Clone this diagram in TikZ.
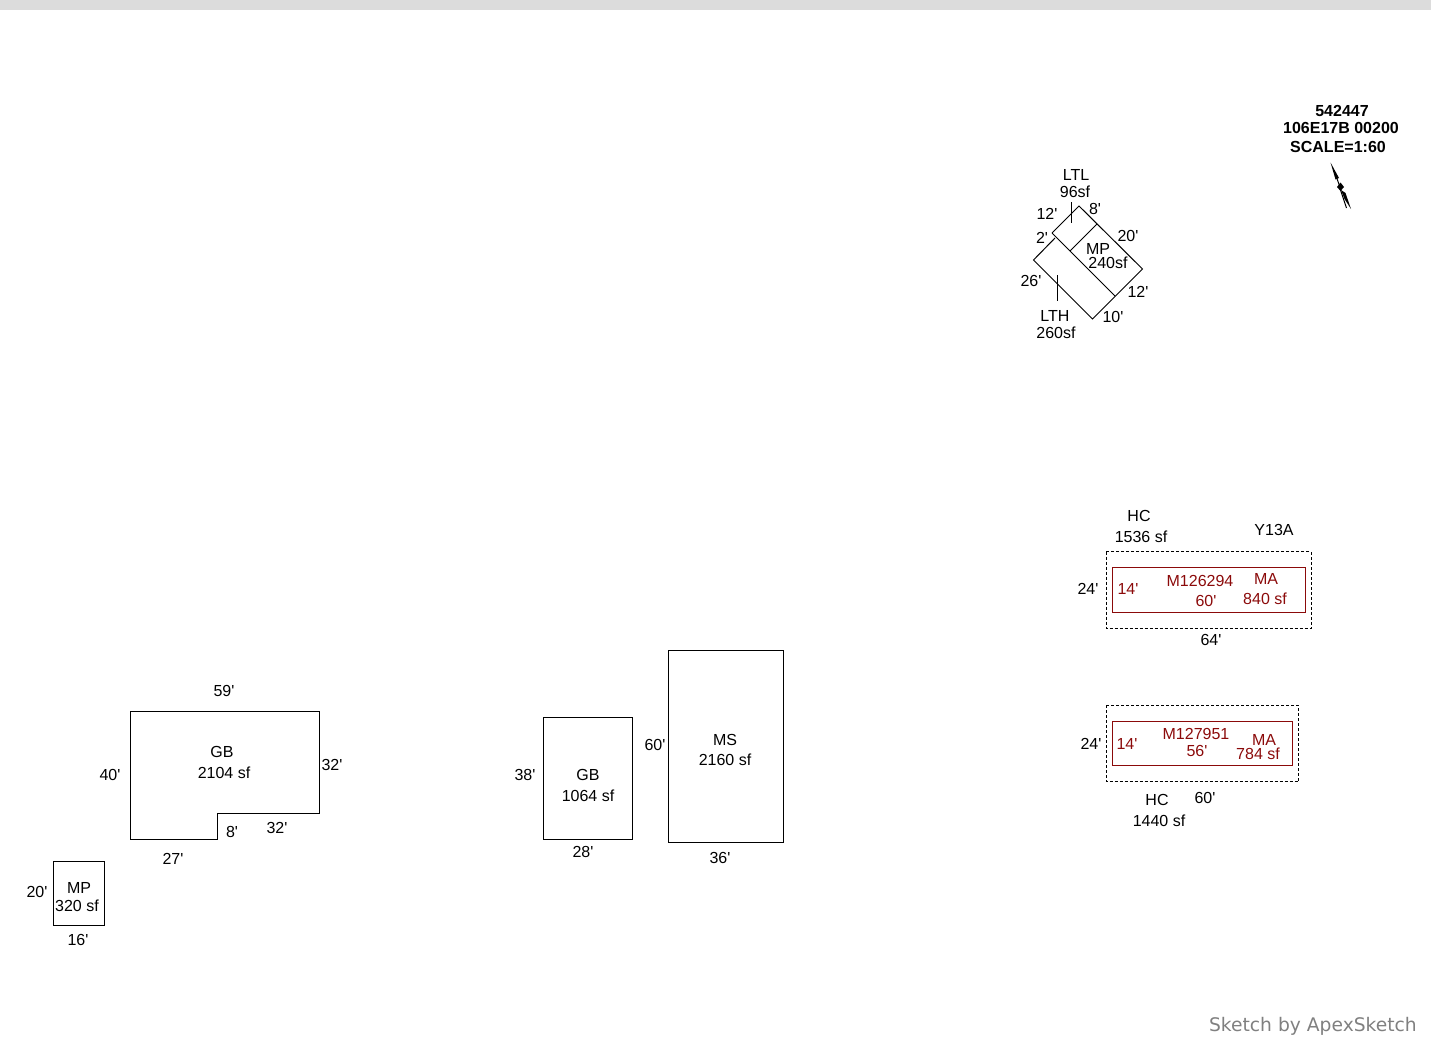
\documentclass[tikz,border=0pt]{standalone}
\usepackage{fontspec}
\setmainfont{Liberation Sans}[Ligatures=NoCommon]
\newfontfamily\labfont{Liberation Sans}
\newfontfamily\apexfont{DejaVu Sans}
\definecolor{maroon}{RGB}{139,10,10}
\definecolor{band}{RGB}{220,220,220}
\definecolor{credit}{RGB}{128,128,128}
\tikzset{
  lab/.style={inner sep=0pt,font=\labfont\fontsize{16}{18}\selectfont,text=black,align=center},
  redlab/.style={lab,text=maroon},
  boldlab/.style={lab,font=\labfont\fontsize{16}{18}\selectfont\bfseries},
  wall/.style={draw=black,line width=1pt,line join=miter},
  redwall/.style={draw=maroon,line width=1pt},
  dotwall/.style={draw=black,line width=1pt,dash pattern=on 3pt off 2pt},
}
\begin{document}
\begin{tikzpicture}[x=1pt,y=-1pt]
\useasboundingbox (0,0) rectangle (1431,1036);
\clip (0,0) rectangle (1431,1036);
\fill[band] (0,0) rectangle (1431,10);
% GB left
\draw[wall] (130,711.5) -- (319.5,711.5) -- (319.5,813.5) -- (217,813.5) -- (217,839) -- (130,839) -- cycle;
\node[lab] (a1) at (224,691) {59'};
\node[lab] (a2) at (222,752) {GB};
\node[lab] (a3) at (224,773) {2104 sf};
\node[lab] (a4) at (110,775) {40'};
\node[lab] (a5) at (332,765) {32'};
\node[lab] (a6) at (232,832) {8'};
\node[lab] (a7) at (277,828) {32'};
\node[lab] (a8) at (173,859) {27'};
% MP left
\draw[wall] (53.5,861.5) rectangle (104.5,925.5);
\node[lab] (b1) at (79,888) {MP};
\node[lab] (b2) at (77,906) {320 sf};
\node[lab] (b3) at (37,892) {20'};
\node[lab] (b4) at (78,940) {16'};
% GB middle
\draw[wall] (543,717.5) rectangle (632.5,839);
\node[lab] (c1) at (588,775) {GB};
\node[lab] (c2) at (588,796) {1064 sf};
\node[lab] (c3) at (525,775) {38'};
\node[lab] (c4) at (583,852) {28'};
% MS
\draw[wall] (668,650.5) rectangle (783.5,842.5);
\node[lab] (d1) at (725,740) {MS};
\node[lab] (d2) at (725,760) {2160 sf};
\node[lab] (d3) at (655,745) {60'};
\node[lab] (d4) at (720,858) {36'};
% Upper HC
\draw[dotwall] (1106,551.5) rectangle (1311,628);
\draw[redwall] (1112.5,567.5) rectangle (1305,612);
\node[lab] (e1) at (1139,516) {HC};
\node[lab] (e2) at (1141,537) {1536 sf};
\node[lab] (e3) at (1274,530) {Y13A};
\node[lab] (e4) at (1088,589) {24'};
\node[lab] (e5) at (1211,640) {64'};
\node[redlab] (e6) at (1128,589) {14'};
\node[redlab] (e7) at (1200,581) {M126294};
\node[redlab] (e8) at (1206,601) {60'};
\node[redlab] (e9) at (1266,579) {MA};
\node[redlab] (e10) at (1265,599) {840 sf};
% Lower HC
\draw[dotwall] (1106,705) rectangle (1298.5,781.5);
\draw[redwall] (1112.5,721) rectangle (1292,765.5);
\node[lab] (f1) at (1091,744) {24'};
\node[redlab] (f2) at (1127,744) {14'};
\node[redlab] (f3) at (1196,734) {M127951};
\node[redlab] (f4) at (1197,751) {56'};
\node[redlab] (f5) at (1264,740) {MA};
\node[redlab] (f6) at (1258,754) {784 sf};
\node[lab] (f7) at (1157,800) {HC};
\node[lab] (f8) at (1205,798) {60'};
\node[lab] (f9) at (1159,821) {1440 sf};
% Rotated group
\draw[wall] (1052,233) -- (1079,206) -- (1142.5,269) -- (1092.5,319) -- (1033.5,260) -- (1055,238);
\draw[wall] (1052,233) -- (1115,296);
\draw[wall] (1070,251) -- (1097,224);
\draw[line width=1pt] (1071,202) -- (1071,223);
\draw[line width=1pt] (1057,275) -- (1057,301);
\node[lab] (g1) at (1076,175) {LTL};
\node[lab] (g2) at (1075,192) {96sf};
\node[lab] (g3) at (1047,214) {12'};
\node[lab] (g4) at (1095,209) {8'};
\node[lab] (g5) at (1042,238) {2'};
\node[lab] (g6) at (1128,236) {20'};
\node[lab] (g7) at (1098,249) {MP};
\node[lab] (g8) at (1108,263) {240sf};
\node[lab] (g9) at (1031,281) {26'};
\node[lab] (g10) at (1138,292) {12'};
\node[lab] (g11) at (1113,317) {10'};
\node[lab] (g12) at (1055,316) {LTH};
\node[lab] (g13) at (1056,333) {260sf};
% Title
\node[boldlab] (h1) at (1342,111) {542447};
\node[boldlab] (h2) at (1341,128) {106E17B 00200};
\node[boldlab] (h3) at (1338,147) {SCALE=1:60};
% North arrow
\fill[black] (1330.5,162.5) -- (1339,178) -- (1335.5,179.5) -- cycle;
\draw[line width=1pt] (1336,176) -- (1340,187);
\fill[black] (1340.5,182.5) -- (1344,187) -- (1340.5,191) -- (1337,187) -- cycle;
\fill[black] (1341,190) -- (1345.5,193) -- (1351,209) -- (1344.5,199) -- cycle;
\draw[line width=1pt] (1340.5,190) -- (1346.5,208);
% Credit
\node[inner sep=0pt,anchor=base east,text=credit,font=\apexfont\fontsize{18.7}{22}\selectfont] (z) at (1417,1031) {Sketch by ApexSketch};
\end{tikzpicture}
\end{document}
